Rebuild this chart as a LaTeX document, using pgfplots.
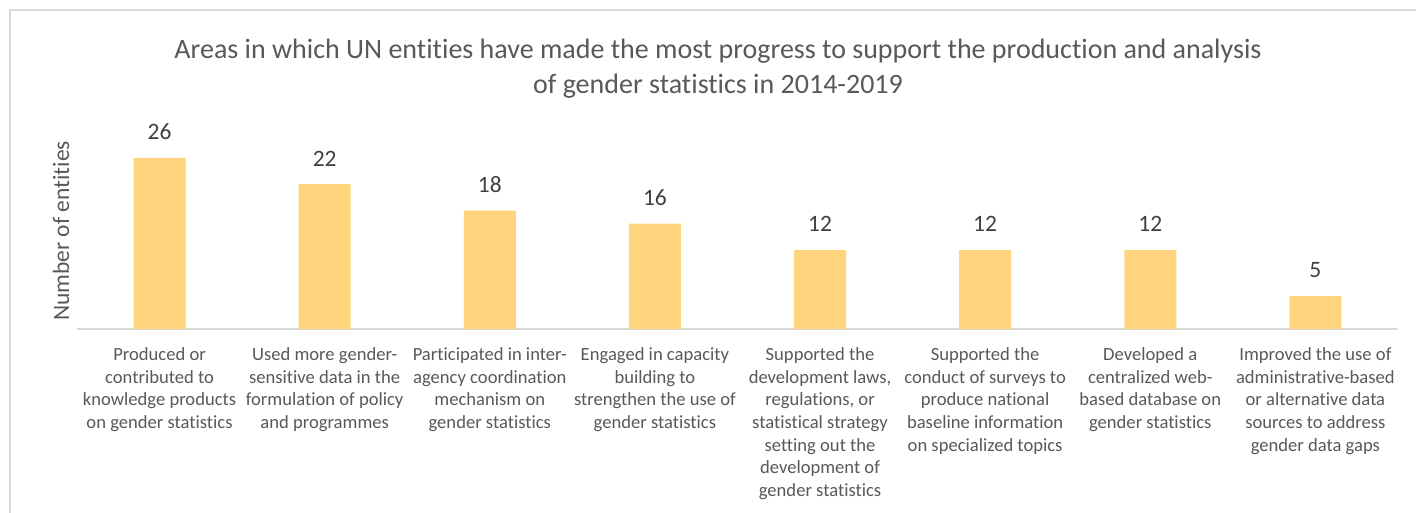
\documentclass[border=0pt]{standalone}
\usepackage{fontspec}
\setmainfont{Carlito}[Ligatures=NoCommon]
\usepackage{pgfplots}
\pgfplotsset{compat=1.18}
\definecolor{barc}{HTML}{FFD47C}
\definecolor{txt}{HTML}{595959}
\definecolor{dlab}{HTML}{404040}
\definecolor{axl}{HTML}{D9D9D9}
\begin{document}
\begin{tikzpicture}[x=1pt,y=1pt]
\useasboundingbox (0,0) rectangle (1416,512);
\fill[white] (0,0) rectangle (1416,512);
\draw[axl, line width=1.5pt] (10,-2) -- (10,502) -- (1418,502);
\node[align=center, text=txt, font=\fontsize{28}{35}\selectfont] at (718,443) {Areas in which UN entities have made the most progress to support the production and analysis\\of gender statistics in 2014-2019};
\node[rotate=90, text=txt, font=\fontsize{23.5}{28}\selectfont] at (61,281) {Number of entities};
\begin{axis}[
  at={(77pt,183pt)}, anchor=south west,
  scale only axis, width=1321pt, height=197.4pt,
  xmin=-0.5, xmax=7.5, ymin=0, ymax=30,
  axis x line=bottom, axis y line=none,
  x axis line style={axl, line width=1.5pt, -},
  major tick length=0pt, ytick=\empty,
  /pgf/number format/assume math mode=true,
  xtick={0,...,7},
  xticklabels={
    {Produced or\\contributed to\\knowledge products\\on gender statistics},
    {Used more gender-\\sensitive data in the\\formulation of policy\\and programmes},
    {Participated in inter-\\agency coordination\\mechanism on\\gender statistics},
    {Engaged in capacity\\building to\\strengthen the use of\\gender statistics},
    {Supported the\\development laws,\\regulations, or\\statistical strategy\\setting out the\\development of\\gender statistics},
    {Supported the\\conduct of surveys to\\produce national\\baseline information\\on specialized topics},
    {Developed a\\centralized web-\\based database on\\gender statistics},
    {Improved the use of\\administrative-based\\or alternative data\\sources to address\\gender data gaps}},
  xticklabel style={align=center, text=txt, font=\fontsize{18.6}{22.7}\selectfont, anchor=north, yshift=-15pt},
  ybar, bar width=52pt, bar shift=0pt,
  nodes near coords,
  nodes near coords style={font=\fontsize{23.5}{28}\selectfont, text=dlab, inner sep=0pt, yshift=18pt},
]
\addplot[fill=barc, draw=none] coordinates {(0,26) (1,22) (2,18) (3,16) (4,12) (5,12) (6,12) (7,5)};
\end{axis}
\end{tikzpicture}
\end{document}
